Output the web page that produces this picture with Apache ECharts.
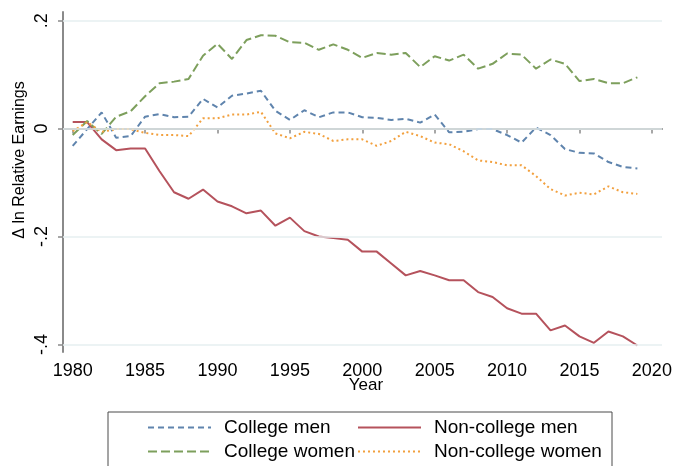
<!DOCTYPE html>
<html>
<head>
<meta charset="utf-8">
<script src="https://cdn.jsdelivr.net/npm/echarts@6/dist/echarts.min.js"></script>
<style>html,body{margin:0;padding:0;background:#fff}#c{width:678px;height:466px}</style>
</head>
<body>
<div id="c"></div>
<script>
const years = [];
for (let y = 1980; y <= 2019; y++) years.push(y);

const collegeMen = [-0.032,-0.001,0.030,-0.017,-0.014,0.022,0.027,0.021,0.022,0.055,
  0.039,0.061,0.065,0.070,0.033,0.016,0.034,0.021,0.030,0.030,
  0.021,0.020,0.016,0.018,0.011,0.026,-0.007,-0.006,-0.001,-0.001,
  -0.012,-0.026,0.002,-0.012,-0.038,-0.045,-0.046,-0.062,-0.071,-0.074];
const collegeWomen = [-0.012,0.014,-0.010,0.022,0.032,0.060,0.084,0.087,0.092,0.135,
  0.157,0.129,0.164,0.173,0.172,0.160,0.159,0.146,0.156,0.146,
  0.131,0.140,0.137,0.140,0.114,0.134,0.126,0.137,0.111,0.120,
  0.139,0.137,0.111,0.128,0.120,0.088,0.092,0.084,0.084,0.095];
const nonCollegeMen = [0.012,0.012,-0.020,-0.040,-0.037,-0.037,-0.079,-0.118,-0.130,-0.113,
  -0.135,-0.144,-0.157,-0.152,-0.180,-0.165,-0.190,-0.200,-0.203,-0.206,
  -0.228,-0.228,-0.250,-0.272,-0.264,-0.272,-0.281,-0.281,-0.303,-0.312,
  -0.333,-0.343,-0.343,-0.374,-0.365,-0.385,-0.397,-0.376,-0.385,-0.402];
const nonCollegeWomen = [-0.005,0.012,-0.006,-0.001,-0.001,-0.008,-0.012,-0.012,-0.014,0.019,
  0.019,0.026,0.026,0.031,-0.009,-0.018,-0.006,-0.010,-0.023,-0.020,
  -0.020,-0.032,-0.023,-0.006,-0.014,-0.026,-0.029,-0.042,-0.059,-0.062,
  -0.068,-0.068,-0.088,-0.112,-0.124,-0.119,-0.122,-0.107,-0.118,-0.121];

const xTicks = [1980,1985,1990,1995,2000,2005,2010,2015,2020];
const yTicks = [-0.4,-0.2,0,0.2];

const pairs = arr => years.map((y,i)=>[y, arr[i]]);
const FONT = 'Liberation Sans, Arial, sans-serif';
const axisGray = '#8a8a8a';

const chart = echarts.init(document.getElementById('c'), null, {renderer:'canvas'});
const fmtY = v => {
  if (Math.abs(v) < 1e-9) return '0';
  const s = Math.abs(v).toFixed(1).replace(/^0/, '');
  return (v < 0 ? '-' : '') + s;
};

const legendBase = {
  orient: 'vertical', top: 418,
  itemWidth: 63, itemHeight: 14, itemGap: 5, padding: 0,
  itemStyle: {opacity: 0},
  textStyle: {fontFamily: FONT, fontSize: 19, color: '#000', lineHeight: 19, padding: [0,0,0,8]}
};

chart.setOption({
  animation: false,
  backgroundColor: '#ffffff',
  grid: {left: 63, right: 16, top: 12, bottom: 114, containLabel: false},
  xAxis: {
    type: 'value', min: 1979.33, max: 2020.7,
    axisLine: {show: true, lineStyle: {color: axisGray, width: 2}},
    axisTick: {show: true, length: 5, lineStyle: {color: axisGray, width: 1.5}, customValues: xTicks},
    axisLabel: {customValues: xTicks, margin: 10, fontFamily: FONT, fontSize: 18, color: '#000', formatter: v => String(v)},
    splitLine: {show: false}
  },
  yAxis: {
    type: 'value', min: -0.414, max: 0.216,
    axisLine: {show: true, lineStyle: {color: axisGray, width: 2}},
    axisTick: {show: true, length: 5, lineStyle: {color: axisGray, width: 1.5}, customValues: yTicks},
    axisLabel: {customValues: yTicks, rotate: 90, margin: 12, fontFamily: FONT, fontSize: 18, color: '#000', formatter: fmtY},
    splitLine: {show: false}
  },
  legend: [
    Object.assign({}, legendBase, {data: ['College men', 'College women'], left: 147}),
    Object.assign({}, legendBase, {data: ['Non-college men', 'Non-college women'], left: 357})
  ],
  graphic: [
    {type: 'rect', shape: {x: 108, y: 412, width: 504, height: 70}, style: {fill: 'none', stroke: '#4a4a4a', lineWidth: 1}, silent: true},
    {type: 'text', x: 20, y: 160, rotation: Math.PI/2,
     style: {text: '\u0394 ln Relative Earnings', fontFamily: FONT, fontSize: 16, fill: '#000', align: 'center', verticalAlign: 'middle'}},
    {type: 'text', x: 366, y: 385,
     style: {text: 'Year', fontFamily: FONT, fontSize: 17, fill: '#000', align: 'center', verticalAlign: 'middle'}}
  ],
  series: [
    {
      name: 'College men', type: 'line', data: pairs(collegeMen), symbol: 'none',
      lineStyle: {color: '#5f84ad', width: 2, type: [6, 4]}, itemStyle: {color: '#5f84ad'},
      markLine: {silent: true, symbol: 'none', label: {show: false},
        lineStyle: {color: '#e6eff1', width: 1.5, type: 'solid'},
        data: yTicks.map(v => ({yAxis: v}))}
    },
    {
      name: 'Non-college men', type: 'line', data: pairs(nonCollegeMen), symbol: 'none',
      lineStyle: {color: '#b5525c', width: 2, type: 'solid'}, itemStyle: {color: '#b5525c'}
    },
    {
      name: 'College women', type: 'line', data: pairs(collegeWomen), symbol: 'none',
      lineStyle: {color: '#7d9f5c', width: 2, type: [9, 4]}, itemStyle: {color: '#7d9f5c'}
    },
    {
      name: 'Non-college women', type: 'line', data: pairs(nonCollegeWomen), symbol: 'none',
      lineStyle: {color: '#f2a03e', width: 2, type: [2, 3]}, itemStyle: {color: '#f2a03e'}
    }
  ]
});
</script>
</body>
</html>
